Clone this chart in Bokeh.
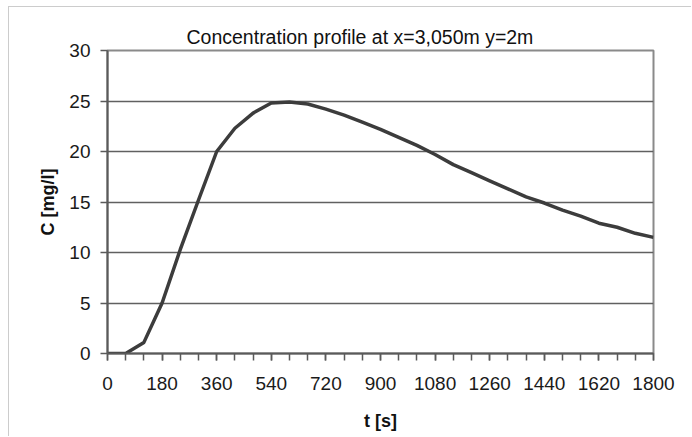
from bokeh.plotting import figure
from bokeh.models import Range1d, FixedTicker, Title
from bokeh.embed import file_html
from bokeh.resources import INLINE

# ---- data ----
t_s = [0, 60, 120, 180, 240, 300, 360, 420, 480, 540, 600, 660, 720, 780, 840,
       900, 960, 1020, 1080, 1140, 1200, 1260, 1320, 1380, 1440, 1500, 1560,
       1620, 1680, 1740, 1800]
conc = [0.0, 0.0, 1.1, 5.0, 10.3, 15.2, 20.0, 22.3, 23.8, 24.8, 24.9, 24.7,
        24.2, 23.6, 22.9, 22.2, 21.4, 20.6, 19.7, 18.7, 17.9, 17.1, 16.3, 15.5,
        14.9, 14.2, 13.6, 12.9, 12.5, 11.9, 11.5]
x_major_ticks = [0, 180, 360, 540, 720, 900, 1080, 1260, 1440, 1620, 1800]
x_minor_ticks = list(range(0, 1801, 60))
y_ticks = [0, 5, 10, 15, 20, 25, 30]
title_text = "Concentration profile at x=3,050m y=2m"
x_label_text = "t [s]"
y_label_text = "C [mg/l]"

# page geometry
PAGE_W, PAGE_H = 692, 437
ML, MT, BW = 8, 6, 1             # outer frame offset and border width
W, H = PAGE_W - ML - BW, PAGE_H - MT - BW
OX, OY = ML + BW, MT + BW
FL, FR, FT, FB = 107 - OX, 653 - OX, 50 - OY, 353 - OY

FONT = "Liberation Sans"

p = figure(width=W, height=H, output_backend="svg", toolbar_location=None,
           x_range=Range1d(0, 1800), y_range=Range1d(0, 30),
           min_border_left=FL, min_border_right=W - FR,
           min_border_top=FT, min_border_bottom=H - FB)
p.margin = (MT, 0, 0, ML)
p.styles = {"border-top": "1px solid #cccccc", "border-left": "1px solid #cccccc"}
p.background_fill_color = "white"
p.border_fill_color = "white"
p.outline_line_color = "#8a8a8a"
p.outline_line_width = 2

p.xaxis.ticker = FixedTicker(ticks=x_major_ticks, minor_ticks=x_minor_ticks)
p.yaxis.ticker = FixedTicker(ticks=y_ticks, minor_ticks=[])
for ax in (p.xaxis, p.yaxis):
    ax.axis_line_color = "#5a5a5a"
    ax.axis_line_width = 2
    ax.major_tick_line_color = "#5a5a5a"
    ax.major_tick_line_width = 1.5
    ax.minor_tick_line_color = "#5a5a5a"
    ax.minor_tick_line_width = 1.5
    ax.major_tick_in = 0
    ax.major_tick_out = 7
    ax.minor_tick_in = 0
    ax.minor_tick_out = 7
    ax.major_label_text_font = FONT
    ax.major_label_text_font_size = "19px"
    ax.major_label_text_color = "#1a1a1a"
p.xaxis.major_label_standoff = 16
p.yaxis.major_label_standoff = 10
p.yaxis.minor_tick_out = 0

p.xaxis.axis_label = x_label_text
p.xaxis.axis_label_text_font = FONT
p.xaxis.axis_label_text_font_style = "bold"
p.xaxis.axis_label_text_font_size = "18px"
p.xaxis.axis_label_text_color = "#111111"
p.xaxis.axis_label_standoff = 18

p.xgrid.grid_line_color = None
p.ygrid.grid_line_color = "#606060"
p.ygrid.grid_line_width = 1.5

p.line(t_s, conc, line_color="#3c3c3c", line_width=3.5, line_join="round")

p.title.text = title_text
p.title.align = "left"
p.title.offset = 186 - 107
p.title.standoff = 6
p.title.text_font = FONT
p.title.text_font_style = "normal"
p.title.text_font_size = "19.5px"
p.title.text_color = "#111111"

p.add_layout(Title(text=y_label_text, align="center", offset=-10, standoff=17,
                   text_font=FONT, text_font_style="bold", text_font_size="18px",
                   text_color="#111111"), "left")

open("out.html", "w").write(file_html(p, INLINE))
